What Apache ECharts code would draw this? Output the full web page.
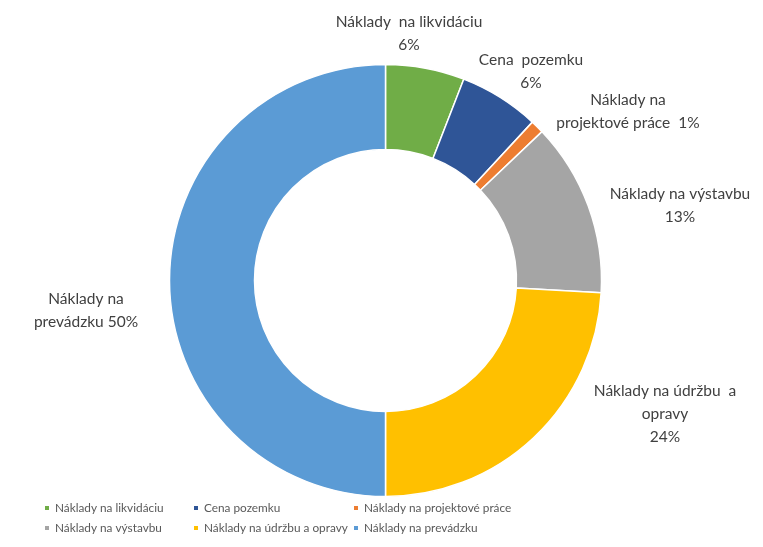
<!DOCTYPE html>
<html>
<head>
<meta charset="utf-8">
<script src="https://cdn.jsdelivr.net/npm/echarts@6/dist/echarts.min.js"></script>
<style>
  html, body { margin: 0; padding: 0; background: #fff; }
  #chart { width: 763px; height: 547px; }
</style>
</head>
<body>
<div id="chart"></div>
<script>
// kategórie a podiely nákladov (%)
const categories = [
  'Náklady na likvidáciu',
  'Cena pozemku',
  'Náklady na projektové práce',
  'Náklady na výstavbu',
  'Náklady na údržbu a opravy',
  'Náklady na prevádzku'
];
const shares = [5.9, 6.0, 1.0, 13.0, 24.1, 50.0];
const labelTexts = [
  'Náklady  na likvidáciu\n{p}',
  'Cena  pozemku\n{p}',
  'Náklady na\nprojektové práce  {p}',
  'Náklady na výstavbu\n{p}',
  'Náklady na údržbu  a\nopravy\n{p}',
  'Náklady na\nprevádzku {p}'
];
const colors = ['#70AD47', '#2F5597', '#ED7D31', '#A5A5A5', '#FFC000', '#5B9BD5'];

// stred textu popisov
const labelCenters = [[409, 33], [531, 71], [628, 111], [680, 205], [665, 414], [86, 310]];

const chart = echarts.init(document.getElementById('chart'));

const legendBase = {
  orient: 'vertical',
  top: 497,
  itemWidth: 6,
  itemHeight: 6,
  itemGap: 8,
  icon: 'rect',
  textStyle: { fontFamily: 'Lato', fontSize: 11.8, color: '#595959' }
};

const option = {
  animation: false,
  color: colors,
  legend: [
    Object.assign({}, legendBase, { left: 38, data: [categories[0], categories[3]] }),
    Object.assign({}, legendBase, { left: 187, data: [categories[1], categories[4]] }),
    Object.assign({}, legendBase, { left: 347, data: [categories[2], categories[5]] })
  ],
  series: [
    {
      type: 'pie',
      center: [385.5, 280.5],
      radius: [131, 216],
      startAngle: 90,
      clockwise: true,
      itemStyle: { borderColor: '#fff', borderWidth: 1.5 },
      label: {
        show: true,
        position: 'outside',
        overflow: 'none',
        fontFamily: 'Lato',
        fontSize: 15.5,
        lineHeight: 23,
        color: '#404040',
        align: 'center',
        formatter: p => labelTexts[p.dataIndex].replace('{p}', Math.round(p.value) + '%')
      },
      labelLine: { show: false },
      labelLayout: p => ({
        x: labelCenters[p.dataIndex][0],
        y: labelCenters[p.dataIndex][1],
        align: 'center',
        verticalAlign: 'middle'
      }),
      emphasis: { disabled: true },
      data: categories.map((name, i) => ({ name, value: shares[i] }))
    }
  ]
};

chart.setOption(option);
</script>
</body>
</html>
